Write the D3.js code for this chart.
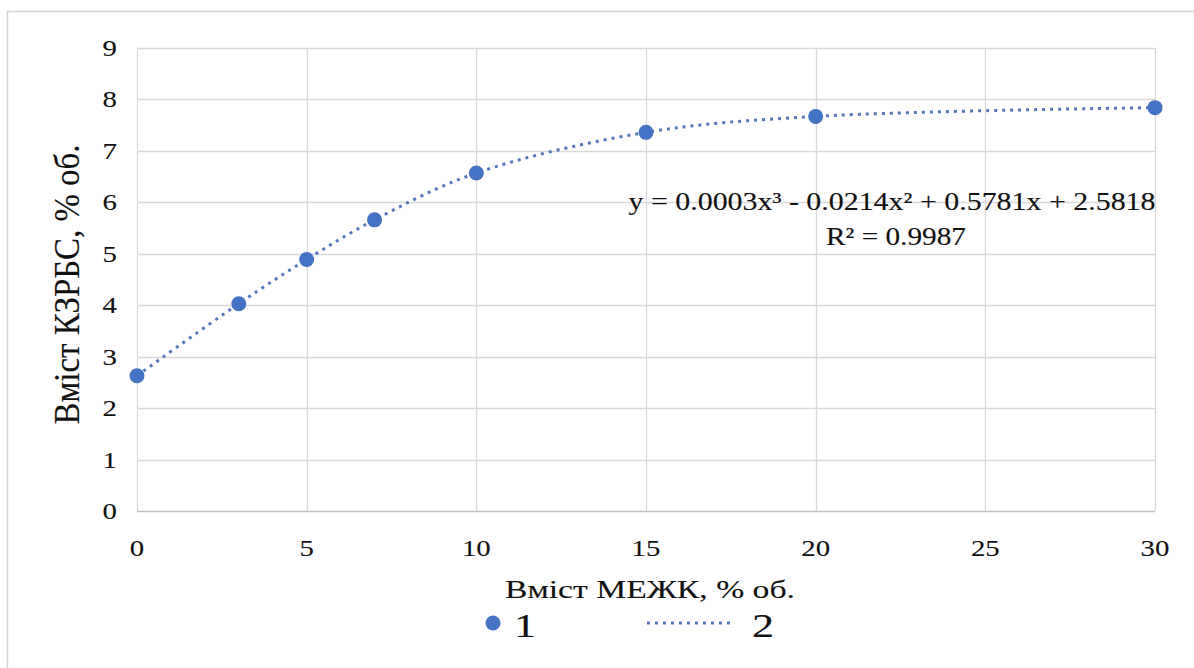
<!DOCTYPE html>
<html>
<head>
<meta charset="utf-8">
<script src="https://cdn.jsdelivr.net/npm/d3@7"></script>
<style>
  html, body { margin: 0; padding: 0; background: #fff; }
  svg { display: block; }
  text { font-family: "Liberation Serif", "Times New Roman", serif; fill: #111; stroke: #111; stroke-width: 0.12; }
</style>
</head>
<body>
<svg id="chart" width="1194" height="668"></svg>
<script>
// Measured content of КЗРБС vs. МЕЖК, % об.
const mezhk = [0, 3, 5, 7, 10, 15, 20, 30];
const kzrbs = [2.63, 4.03, 4.89, 5.66, 6.57, 7.36, 7.67, 7.84];
const xTicks = [0, 5, 10, 15, 20, 25, 30];
const yTicks = [0, 1, 2, 3, 4, 5, 6, 7, 8, 9];
const xTitle = "Вміст МЕЖК, % об.";
const yTitle = "Вміст КЗРБС, % об.";
const equationText = "y = 0.0003x³ - 0.0214x² + 0.5781x + 2.5818";
const r2Text = "R² = 0.9987";
const legendLabels = ["1", "2"];

const blue = "#4472C4";
const dotted = "#5577bb";
const grid = "#d9d9d9";
const stretch = 1.3; // text in this chart is set wide

const svg = d3.select("#chart");
const plot = { left: 137, right: 1155, top: 48, bottom: 511 };

const x = d3.scaleLinear().domain([0, 30]).range([plot.left, plot.right]);
const y = d3.scaleLinear().domain([0, 9]).range([plot.bottom, plot.top]);

// widen a horizontal text element by a factor
function widen(sel, k) {
  sel.each(function () {
    const w = this.getComputedTextLength();
    d3.select(this).attr("textLength", w * k).attr("lengthAdjust", "spacingAndGlyphs");
  });
}
// set a text element to an exact width
function fit(sel, w) {
  sel.attr("textLength", w).attr("lengthAdjust", "spacingAndGlyphs");
}

// chart frame
svg.append("rect")
  .attr("x", 7.5).attr("y", 11.5)
  .attr("width", 1200).attr("height", 700)
  .attr("fill", "#fff").attr("stroke", "#d4d4d4").attr("stroke-width", 1.5);

// gridlines
svg.append("g")
  .selectAll("line").data(xTicks).join("line")
  .attr("x1", d => Math.round(x(d)) + 0.5).attr("x2", d => Math.round(x(d)) + 0.5)
  .attr("y1", plot.top).attr("y2", plot.bottom)
  .attr("stroke", grid).attr("stroke-width", 1.3);

svg.append("g")
  .selectAll("line").data(yTicks.filter(d => d > 0)).join("line")
  .attr("x1", plot.left).attr("x2", plot.right)
  .attr("y1", d => Math.round(y(d)) + 0.5).attr("y2", d => Math.round(y(d)) + 0.5)
  .attr("stroke", grid).attr("stroke-width", 1.3);

// x axis line
svg.append("line")
  .attr("x1", plot.left).attr("x2", plot.right)
  .attr("y1", Math.round(y(0)) + 0.5).attr("y2", Math.round(y(0)) + 0.5)
  .attr("stroke", "#bfbfbf").attr("stroke-width", 1.5);

// tick labels
const xt = svg.append("g").selectAll("text").data(xTicks).join("text")
  .attr("x", d => x(d)).attr("y", 556)
  .attr("text-anchor", "middle")
  .attr("font-size", 24)
  .text(d => d);
widen(xt, 1.2);

const yt = svg.append("g").selectAll("text").data(yTicks).join("text")
  .attr("x", 117).attr("y", d => y(d) + 8)
  .attr("text-anchor", "end")
  .attr("font-size", 24)
  .text(d => d);
widen(yt, 1.2);

// axis titles
const xtl = svg.append("text")
  .attr("x", 650).attr("y", 598)
  .attr("text-anchor", "middle")
  .attr("font-size", 26)
  .text(xTitle);
fit(xtl, 290);

const ytl = svg.append("text")
  .attr("transform", `translate(79,${(plot.top + plot.bottom) / 2 + 5}) rotate(-90) scale(1,1.25)`)
  .attr("text-anchor", "middle")
  .attr("font-size", 29)
  .text(yTitle);
fit(ytl, 280);

// smoothed dotted series
const line = d3.line()
  .x((d, i) => x(mezhk[i]))
  .y(d => y(d))
  .curve(d3.curveCatmullRom);

svg.append("path")
  .datum(kzrbs)
  .attr("d", line)
  .attr("fill", "none")
  .attr("stroke", dotted)
  .attr("stroke-width", 3)
  .attr("stroke-dasharray", "3,5");

// markers
svg.append("g").selectAll("circle").data(kzrbs).join("circle")
  .attr("cx", (d, i) => x(mezhk[i]))
  .attr("cy", d => y(d))
  .attr("r", 7.5)
  .attr("fill", blue);

// trendline equation
const eq = svg.append("text")
  .attr("x", 892).attr("y", 210)
  .attr("text-anchor", "middle")
  .attr("font-size", 25)
  .text(equationText);
fit(eq, 527);

const r2 = svg.append("text")
  .attr("x", 896).attr("y", 245)
  .attr("text-anchor", "middle")
  .attr("font-size", 25)
  .text(r2Text);
fit(r2, 140);

// legend
const lg = svg.append("g");
lg.append("circle").attr("cx", 493).attr("cy", 623).attr("r", 7.5).attr("fill", blue);
const l1 = lg.append("text").attr("x", 514).attr("y", 637).attr("font-size", 34).text(legendLabels[0]);
widen(l1, stretch);
lg.append("line")
  .attr("x1", 647).attr("x2", 735).attr("y1", 623).attr("y2", 623)
  .attr("stroke", dotted).attr("stroke-width", 3).attr("stroke-dasharray", "3,5");
const l2 = lg.append("text").attr("x", 752).attr("y", 637).attr("font-size", 34).text(legendLabels[1]);
widen(l2, stretch);
</script>
</body>
</html>
